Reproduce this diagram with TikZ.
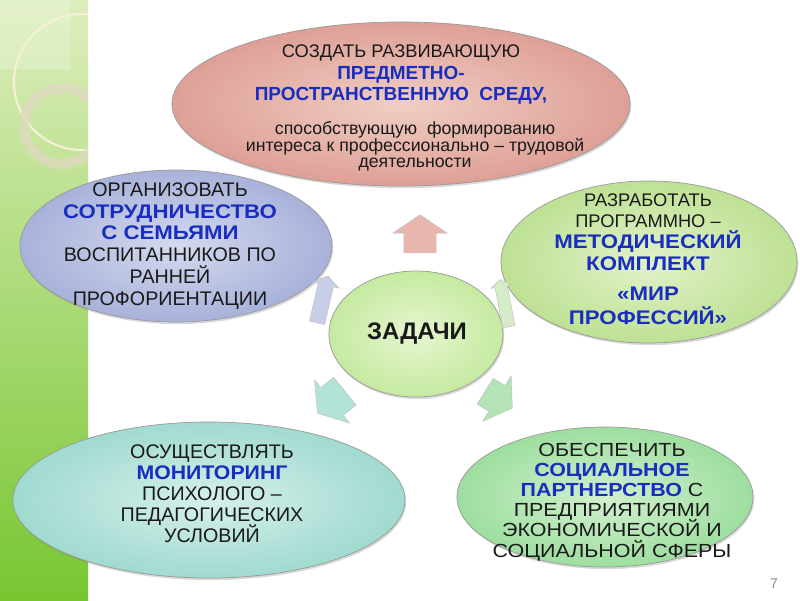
\documentclass[tikz,border=0pt]{standalone}
\usepackage{fontspec}
\setmainfont{Liberation Sans}
\newfontfamily\wideA[FakeStretch=1.13]{Liberation Sans}
\newfontfamily\wideB[FakeStretch=1.08]{Liberation Sans}
\usetikzlibrary{shapes.geometric,shapes.arrows,shadows}

\definecolor{hlblue}{RGB}{25,45,190}
\definecolor{stripTop}{RGB}{222,238,190}
\definecolor{stripMid}{RGB}{176,224,112}
\definecolor{stripBot}{RGB}{120,198,50}
\definecolor{ringA}{RGB}{246,240,215}
\definecolor{ringB}{RGB}{222,218,190}
\definecolor{pinkIn}{RGB}{240,206,196}
\definecolor{pinkOut}{RGB}{222,160,150}
\definecolor{blueIn}{RGB}{212,217,238}
\definecolor{blueOut}{RGB}{168,178,218}
\definecolor{rgreenIn}{RGB}{226,242,202}
\definecolor{rgreenOut}{RGB}{190,225,148}
\definecolor{cgreenIn}{RGB}{230,246,208}
\definecolor{cgreenOut}{RGB}{198,234,160}
\definecolor{cyanIn}{RGB}{214,240,235}
\definecolor{cyanOut}{RGB}{160,218,208}
\definecolor{bgreenIn}{RGB}{210,240,206}
\definecolor{bgreenOut}{RGB}{158,222,160}
\definecolor{arrPink}{RGB}{232,182,172}
\definecolor{arrBlue}{RGB}{200,205,232}
\definecolor{arrGreen}{RGB}{214,235,200}
\definecolor{arrTeal}{RGB}{178,226,216}
\definecolor{arrMint}{RGB}{180,228,182}

\def\hlsize{}
\def\noskip{\lineskiplimit=-50pt\relax}
\newcommand{\hl}[1]{\textbf{\textcolor{hlblue}{\hlsize #1}}}
\newcommand{\sm}[1]{\hspace*{20pt}{\fontsize{12.6}{12}\selectfont #1}}

\begin{document}
\begin{tikzpicture}[x=0.025cm, y=-0.025cm, font=\fontsize{14}{15}\selectfont,
  task/.style={ellipse, draw=black!40, line width=0.5pt, inner sep=0pt,
    drop shadow={opacity=0.3, shadow xshift=0.8pt, shadow yshift=-1.5pt}},
  txt/.style={align=center, inner sep=0pt, text=black!90, execute at begin node=\noskip},
  barr/.style={single arrow, draw=black!25, line width=0.3pt, inner xsep=0pt, anchor=tail,
    single arrow head indent=0pt, single arrow tip angle=112}]
\useasboundingbox (0,0) rectangle (800,600);
% green strip on the left
\shade[top color=stripTop, middle color=stripMid, bottom color=stripBot] (0,0) rectangle (88,600);
\begin{scope}
  \clip (0,0) rectangle (88,600);
  \fill[white, opacity=0.2] (0,0) rectangle (70,70);
  \draw[ringA, line width=1.5pt] (82,82) circle (68);
  \draw[ringB, line width=7pt, opacity=0.8] (62,126) circle (38);
\end{scope}
% tasks
\node[task, inner color=pinkIn, outer color=pinkOut, minimum width=11.45cm, minimum height=4.1cm] (create) at (401,104) {};
\node[task, inner color=blueIn, outer color=blueOut, minimum width=7.8cm, minimum height=3.8cm] (family) at (176,246) {};
\node[task, inner color=rgreenIn, outer color=rgreenOut, minimum width=7.4cm, minimum height=4.05cm] (method) at (649,262) {};
\node[task, inner color=cyanIn, outer color=cyanOut, minimum width=9.8cm, minimum height=3.9cm] (monitor) at (209,500) {};
\node[task, inner color=bgreenIn, outer color=bgreenOut, minimum width=7.4cm, minimum height=3.5cm] (partner) at (605,497) {};
\node[task, inner color=cgreenIn, outer color=cgreenOut, minimum width=4.35cm, minimum height=3.15cm] (tasks) at (416,334) {};
\node[txt, font=\fontsize{13}{15.2}\selectfont\def\hlsize{\fontsize{13.5}{15}\selectfont}] (createTxt) at (401,108)
  {СОЗДАТЬ РАЗВИВАЮЩУЮ\\ \hl{ПРЕДМЕТНО-}\\ \hl{ПРОСТРАНСТВЕННУЮ\ \ СРЕДУ,}\\[9pt]
  \sm{способствующую\ \ формированию}\\[-3.6pt] \sm{интереса к профессионально – трудовой}\\[-3.6pt] \sm{деятельности}};
\node[txt, font=\fontsize{14}{15.6}\selectfont\def\hlsize{\wideA}] (familyTxt) at (170,246)
  {ОРГАНИЗОВАТЬ\\ \hl{СОТРУДНИЧЕСТВО}\\ \hl{С СЕМЬЯМИ}\\ ВОСПИТАННИКОВ ПО\\ РАННЕЙ\\ ПРОФОРИЕНТАЦИИ};
\node[txt, font=\fontsize{13}{15.2}\selectfont\def\hlsize{\wideA\fontsize{14}{15}\selectfont}] (methodTxt) at (648,259)
  {РАЗРАБОТАТЬ\\ ПРОГРАММНО –\\ \hl{МЕТОДИЧЕСКИЙ}\\ \hl{КОМПЛЕКТ}\\[6pt] \hl{«МИР}\\[2pt] \hl{ПРОФЕССИЙ»}};
\node[txt, font=\fontsize{14}{14.9}\selectfont\def\hlsize{\wideB}] (monitorTxt) at (212,494)
  {ОСУЩЕСТВЛЯТЬ\\ \hl{МОНИТОРИНГ}\\ ПСИХОЛОГО –\\ ПЕДАГОГИЧЕСКИХ\\ УСЛОВИЙ};
\node[txt, font=\wideA\fontsize{13.5}{14.3}\selectfont] (partnerTxt) at (612,502)
  {ОБЕСПЕЧИТЬ\\ \hl{СОЦИАЛЬНОЕ}\\ \hl{ПАРТНЕРСТВО} С\\ ПРЕДПРИЯТИЯМИ\\ ЭКОНОМИЧЕСКОЙ И\\ СОЦИАЛЬНОЙ СФЕРЫ};
\node[txt, font=\fontsize{17}{20}\selectfont\bfseries] (tasksTxt) at (417,334) {ЗАДАЧИ};
% block arrows out of the centre
\foreach \n/\x/\y/\r/\l/\s/\e/\c in {upArr/420/253/90/0.95/0.4/0.275/arrPink,
  leftArr/317/323/77/1.2/0.19/0.15/arrBlue, rightArr/509/327/101/1.2/0.15/0.1/arrGreen,
  lowLArr/345/391/219/0.88/0.44/0.25/arrTeal, lowRArr/485/391/328/0.8/0.375/0.29/arrMint}
  \node[barr, fill=\c, rotate=\r, minimum height=\l cm, inner ysep=\s cm, single arrow head extend=\e cm] (\n) at (\x,\y) {};
\node[text=black!45, font=\fontsize{10}{12}\selectfont] (pageNo) at (774,584) {7};
\end{tikzpicture}
\end{document}
